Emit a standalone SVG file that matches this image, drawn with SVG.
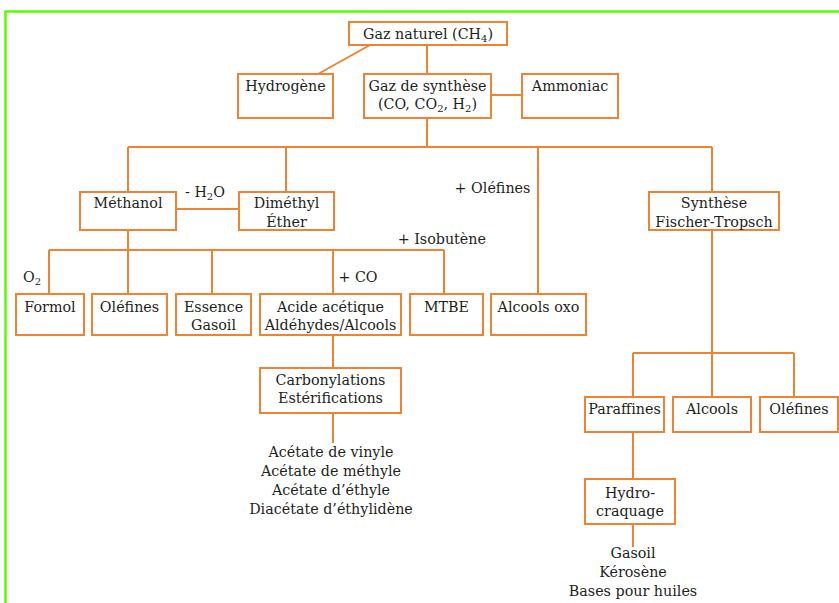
<svg xmlns="http://www.w3.org/2000/svg" width="839" height="603" viewBox="0 0 839 603">
<style>
.b{fill:#fff;stroke:#EE8433;stroke-width:2}
.c{fill:none;stroke:#EE8433;stroke-width:2}
text{font-family:"DejaVu Serif","Liberation Serif","Times New Roman",serif;font-size:14.3px;fill:#231F20;text-anchor:middle}
.s{font-size:10px}
</style>
<rect x="0" y="0" width="839" height="603" fill="#fff"/>
<rect x="5.5" y="11.5" width="845" height="600" fill="none" stroke="#55FF00" stroke-width="2.5"/>
<g id="connectors" class="c">
<path d="M370 45 L318 74"/>
<path d="M427 45 V74"/>
<path d="M491 95 H522"/>
<path d="M427 118 V147 M128 147 H712 M128 147 V192 M286 147 V192 M538 147 V294 M712 147 V192"/>
<path d="M176 209 H239"/>
<path d="M128 230 V250 M49 250 H444 M49 250 V294 M128 250 V294 M212 250 V294 M333 250 V294 M444 250 V294"/>
<path d="M333 335 V368 M333 413 V443"/>
<path d="M712 230 V353 M633 353 H794 M633 353 V397 M712 353 V397 M794 353 V397"/>
<path d="M633 432 V479 M633 524 V547"/>
</g>
<g id="gaz-naturel"><rect class="b" x="349" y="22" width="158" height="23"/><text x="428" y="38.5">Gaz naturel (CH<tspan class="s" dy="3">4</tspan><tspan dy="-3">)</tspan></text></g>
<g id="hydrogene"><rect class="b" x="238" y="74" width="95" height="44"/><text x="285.5" y="91">Hydrogène</text></g>
<g id="gaz-synthese"><rect class="b" x="364" y="74" width="127" height="44"/><text x="427.5" y="91">Gaz de synthèse</text><text x="427.5" y="108.5">(CO, CO<tspan class="s" dy="3">2</tspan><tspan dy="-3">, H</tspan><tspan class="s" dy="3">2</tspan><tspan dy="-3">)</tspan></text></g>
<g id="ammoniac"><rect class="b" x="522" y="74" width="96" height="44"/><text x="570" y="91">Ammoniac</text></g>
<g id="methanol"><rect class="b" x="80" y="192" width="96" height="38"/><text x="128" y="208">Méthanol</text></g>
<g id="dimethyl-ether"><rect class="b" x="239" y="192" width="95" height="38"/><text x="286.5" y="208">Diméthyl</text><text x="286.5" y="226.5">Éther</text></g>
<g id="fischer-tropsch"><rect class="b" x="649" y="192" width="130" height="38"/><text x="714" y="208">Synthèse</text><text x="714" y="226.5">Fischer-Tropsch</text></g>
<g id="formol"><rect class="b" x="16" y="294" width="68" height="41"/><text x="50" y="311.5">Formol</text></g>
<g id="olefines1"><rect class="b" x="92" y="294" width="75" height="41"/><text x="129.5" y="311.5">Oléfines</text></g>
<g id="essence"><rect class="b" x="176" y="294" width="75" height="41"/><text x="213.5" y="311.5">Essence</text><text x="213.5" y="330">Gasoil</text></g>
<g id="acide"><rect class="b" x="260" y="294" width="141" height="41"/><text x="330.5" y="311.5">Acide acétique</text><text x="330.5" y="330">Aldéhydes/Alcools</text></g>
<g id="mtbe"><rect class="b" x="410" y="294" width="73" height="41"/><text x="446.5" y="311.5">MTBE</text></g>
<g id="alcools-oxo"><rect class="b" x="491" y="294" width="95" height="41"/><text x="538.5" y="311.5">Alcools oxo</text></g>
<g id="carbonylations"><rect class="b" x="260" y="368" width="141" height="45"/><text x="330.5" y="384.5">Carbonylations</text><text x="330.5" y="403">Estérifications</text></g>
<g id="acetates"><text x="331" y="457">Acétate de vinyle</text><text x="331" y="476">Acétate de méthyle</text><text x="331" y="494.5">Acétate d’éthyle</text><text x="331" y="513.5">Diacétate d’éthylidène</text></g>
<g id="paraffines"><rect class="b" x="585" y="397" width="79" height="35"/><text x="624.5" y="414">Paraffines</text></g>
<g id="alcools"><rect class="b" x="673" y="397" width="78" height="35"/><text x="712" y="414">Alcools</text></g>
<g id="olefines2"><rect class="b" x="760" y="397" width="78" height="35"/><text x="799" y="414">Oléfines</text></g>
<g id="hydrocraquage"><rect class="b" x="585" y="479" width="90" height="45"/><text x="630" y="497.5">Hydro-</text><text x="630" y="516">craquage</text></g>
<g id="produits"><text x="633" y="557.5">Gasoil</text><text x="633" y="576.5">Kérosène</text><text x="633" y="595.5">Bases pour huiles</text></g>
<g id="labels">
<text x="205" y="197">- H<tspan class="s" dy="3">2</tspan><tspan dy="-3">O</tspan></text>
<text x="492.5" y="193">+ Oléfines</text>
<text x="486" y="244" style="text-anchor:end">+ Isobutène</text>
<text x="358" y="281.5">+ CO</text>
<text x="32" y="281.5">O<tspan class="s" dy="3">2</tspan></text>
</g>
</svg>
